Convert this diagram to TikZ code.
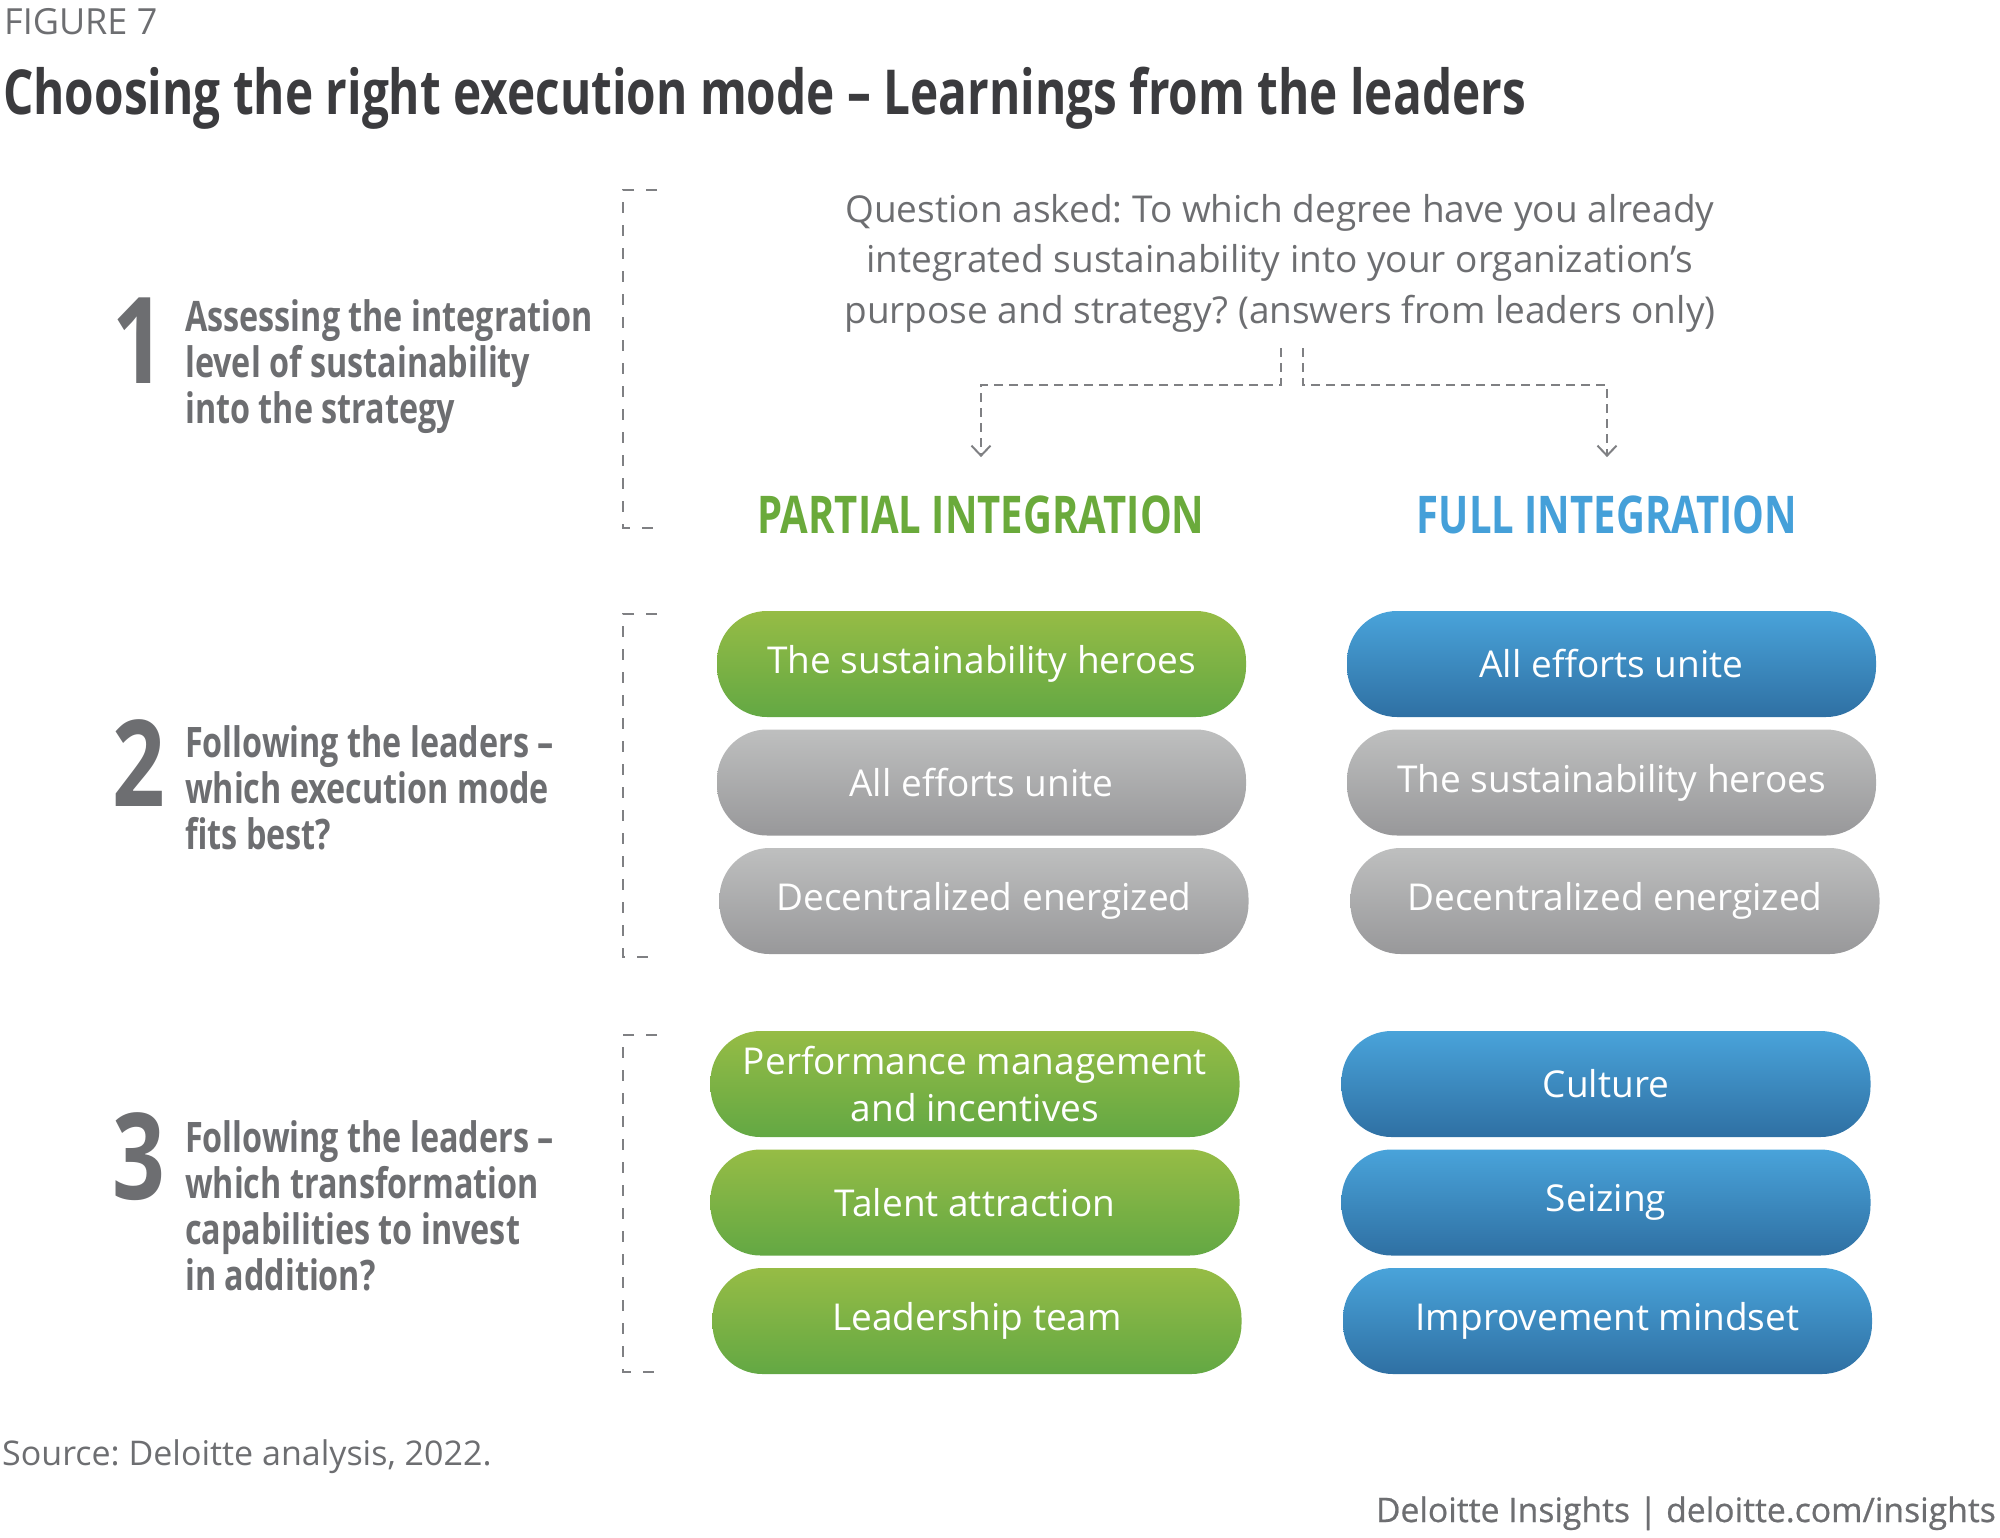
\documentclass[tikz,border=0pt]{standalone}
\usepackage{fontspec}
\setmainfont{Open Sans}
\newfontfamily\condfont{Open Sans}[FakeStretch=0.77]
\usetikzlibrary{arrows.meta}
\frenchspacing
\definecolor{txtgray}{HTML}{6D6E71}
\definecolor{titlec}{HTML}{3B3B3E}
\definecolor{dashc}{HTML}{7F8083}
\definecolor{headgreen}{HTML}{6AAA3B}
\definecolor{headblue}{HTML}{45A0D9}
\definecolor{gT}{HTML}{96BC45}
\definecolor{gB}{HTML}{63A844}
\definecolor{bT}{HTML}{49A3DA}
\definecolor{bB}{HTML}{2F70A3}
\definecolor{yT}{HTML}{BEBFBF}
\definecolor{yB}{HTML}{98989A}
\begin{document}
\frenchspacing
\begin{tikzpicture}[x=1pt,y=-1pt,
  pill/.style={minimum width=529, minimum height=106, rounded corners=50, inner sep=0pt,
    text=white, font=\fontsize{37}{47}\selectfont, align=center},
  greenpill/.style={pill, top color=gT, bottom color=gB},
  bluepill/.style={pill, top color=bT, bottom color=bB},
  graypill/.style={pill, top color=yT, bottom color=yB},
  bignum/.style={anchor=base east, inner sep=0pt, text=txtgray, font=\condfont\bfseries\fontsize{120}{120}\selectfont},
  steplabel/.style={anchor=base west, inner sep=0pt, text=txtgray, align=left, font=\condfont\bfseries\fontsize{42}{46}\selectfont},
  bracket/.style={draw=dashc, line width=2pt, dash pattern=on 11pt off 12pt},
  conn/.style={draw=dashc, line width=2pt, dash pattern=on 9pt off 6pt, -{Straight Barb[length=10pt,width=19pt]}},
  heading/.style={anchor=base, inner sep=0pt, font=\condfont\bfseries\fontsize{52}{52}\selectfont}
]
\useasboundingbox (0,0) rectangle (2000,1537);

% header
\node[anchor=base west, inner sep=0pt, text=txtgray, font=\fontsize{36}{36}\selectfont] (fig) at (4,34) {FIGURE 7};
\node[anchor=base west, inner sep=0pt, text=titlec, font=\condfont\bfseries\fontsize{62}{62}\selectfont] (title) at (3,114) {Choosing the right execution mode – Learnings from the leaders};

% step labels (anchor = baseline of last line)
\node[bignum] (n1) at (165,383) {1};
\node[steplabel] (l1) at (185,423) {Assessing the integration\\level of sustainability\\into the strategy};
\node[bignum] (n2) at (165,806) {2};
\node[steplabel] (l2) at (185,849) {Following the leaders –\\which execution mode\\fits best?};
\node[bignum] (n3) at (165,1199) {3};
\node[steplabel] (l3) at (185,1290) {Following the leaders –\\which transformation\\capabilities to invest\\in addition?};

% brackets
\draw[bracket] (657,190) -- (623,190) -- (623,528) -- (657,528);
\draw[bracket] (657,614) -- (623,614) -- (623,957) -- (657,957);
\draw[bracket] (657,1035) -- (623,1035) -- (623,1372) -- (657,1372);

% question (anchor = baseline of last line)
\node[anchor=base, inner sep=0pt, text=txtgray, align=center, font=\fontsize{37}{50.5}\selectfont] (q) at (1280,323)
  {Question asked: To which degree have you already\\integrated sustainability into your organization’s\\purpose and strategy? (answers from leaders only)};

% headings
\node[heading, text=headgreen] (ph) at (981,533) {PARTIAL INTEGRATION};
\node[heading, text=headblue] (fh) at (1607,533) {FULL INTEGRATION};

\coordinate (qL) at (1281,348);
\coordinate (qR) at (1303,348);
\draw[conn, shorten >=38pt] (qL) -- (1281,385) -| (ph.north);
\draw[conn, shorten >=38pt] (qR) -- (1303,385) -| (fh.north);

% pills row group 2
\node[greenpill] (p1) at (981.5,664) {The sustainability heroes};
\node[graypill] (p2) at (981.5,782.5) {All efforts unite};
\node[graypill] (p3) at (984,901) {Decentralized energized};
\node[bluepill] (f1) at (1611.5,664) {All efforts unite};
\node[graypill] (f2) at (1611.5,782.5) {The sustainability heroes};
\node[graypill] (f3) at (1615,901) {Decentralized energized};

% pills group 3
\node[greenpill] (c1) at (975,1084) {Performance management\\and incentives};
\node[greenpill] (c2) at (975,1202.5) {Talent attraction};
\node[greenpill] (c3) at (977,1321) {Leadership team};
\node[bluepill] (d1) at (1606,1084) {Culture};
\node[bluepill] (d2) at (1606,1202.5) {Seizing};
\node[bluepill] (d3) at (1607.5,1321) {Improvement mindset};

% footer
\node[anchor=base west, inner sep=0pt, text=txtgray, font=\fontsize{34}{34}\selectfont] (src) at (2,1465) {Source: Deloitte analysis, 2022.};
\node[anchor=base east, inner sep=0pt, text=txtgray, font=\fontsize{33.7}{34}\selectfont\addfontfeature{FakeBold=0.6}] (brand) at (1996,1522) {Deloitte Insights | deloitte.com/insights};
\end{tikzpicture}
\end{document}
